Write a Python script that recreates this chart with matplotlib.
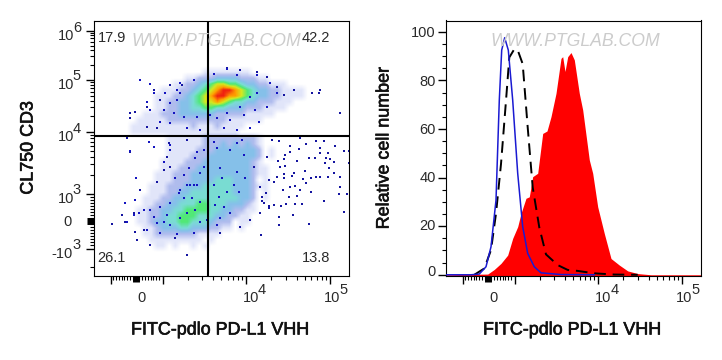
import numpy as np
import matplotlib
matplotlib.use('Agg')
from matplotlib import pyplot as plt
from matplotlib import patheffects as pe
from matplotlib.colors import LinearSegmentedColormap

plt.rcParams['font.family'] = ['Liberation Sans', 'DejaVu Sans']

# density levels, one char per cell, top row first (0-8)
density_rows = [
    "", "", "", "", "", "", "", "",
    "..................11111111",
    "...............11222333322211",
    ".............1122345665543322111",
    "...........111223456788765433221111",
    "..........1112234567887765433221111",
    "..........11223345667654433222111",
    "..........1122334455443332221111",
    "........1112223333332222211111",
    ".......111112222222222111111",
    "......1111111111211121111",
    "......111111111111111111",
    "............1111112222222221",
    "............1111112223232321",
    "............1111122233333332.1",
    "............1111222333333332.1",
    "...........11112223333333321",
    "...........111222333333333211",
    "..........1112223333333333211",
    "..........11122233334443332.1",
    ".........11122233344444333211",
    ".........111223344444443332.1",
    "........1112233444444444332.1",
    "........1122334445544433321",
    ".......11223344555544332211",
    ".......1122344555444332211",
    ".......1123344554443222.11",
    "........112333443332211.1",
    "........1122222221111",
    ".........111111111.1",
    "..........11.1..1.1",
    "", "", "", "",
]

# single events outside the dense part (channel units)
sparse_x = [178,185,206,222,230,241,250,255,226,196,205,212,191,196,234,232,226,215,221,203,190,184,186,191,
            236,240,231,235,255,211,200,198,183,190,190,209,217,222,226,234,240,246,212,206,196,201,189,180,
            175,172,168,168,195,203,217,246,253,245,230,201,208,192,187,180,175,175,170,250,199,185,215,185,167,
            46,36,41,36,53,60,66,76,88,53,63,33,36,75,93,226,225,218,246,190,200,183,173,133,146,163,
            31,41,28,18,31,43,56,93,81,50,41,40,46,63,73,76,70,166,160,173,166,156,146,126]
sparse_y = [136,135,138,135,135,130,125,125,128,130,127,132,121,124,123,118,123,118,118,115,117,115,109,110,
            117,114,113,108,113,105,103,100,99,102,98,97,98,99,99,99,103,99,93,86,89,90,86,94,
            96,83,79,75,79,80,84,89,82,82,75,72,72,72,70,71,70,68,73,64,61,59,52,51,41,
            196,163,164,158,169,186,176,191,191,149,148,138,124,133,136,186,183,183,163,181,186,189,199,208,206,204,
            73,76,61,52,54,36,31,21,38,46,44,63,86,94,119,109,106,89,109,119,63,56,49,43]

# dark dots seen inside the two clusters
inner_x = [55,76.5,76.5,70,60,36.5,42.5,31,41.5,40,33,45,53,66.5,83,100,106.5,123,126.5,136.5,145,143,151.5,150,
           136.5,123,126.5,128,120,125,121.5,113,106.5,93,96.5,100,103,86.5,90,76.5,66.5,60,70,76.5,86.5,93,
           101.5,98,106.5,110,95,101.5,90,81.5,85,73,63,56.5,50,140,133,130,120,143,148,110,103,
           46.5,56.5,60,71.5,83,86.5,100,120,133,143,163,176,183,173,161.5,150,136.5,123,103,90,80,70,66.5,
           56.5,53,76.5,93,106.5,130,143,156.5,165,83,76.5,86.5,156.5,163,146.5,133,116.5]
inner_y = [134,131,126,114,129,125,98,73,76,61,54,63,46,43,42,43,54,51,58,63,84,104,98,121,
           126,128,108,98,91,79,71,56,74,91,91,91,91,86,78,73,69,59,54,51,58,63,
           66,78,103,109,108,118,101,98,83,61,53,66,66,91,84,69,134,133,136,126,124,
           196,192,183,183,186,193,196,202,207,201,201,193,183,169,166,161,156,158,159,159,163,166,154,
           166,174,153,148,146,148,146,148,154,176,173,183,179,183,169,163,161]

quad_labels = ['17.9', '42.2', '26.1', '13.8']

# histograms: channel, % of max
red_x = [0,42.2,48.8,55.5,62.2,67.2,72.2,75.5,80.5,83.8,87.2,92.2,97.2,101.5,105.5,110.5,115.5,117.2,119.5,122.2,
         125.5,128.8,133.8,137.2,143.8,147.2,152.2,158.8,165.5,173.8,182.2,192.2,205.5,255.5]
red_y = [0,0.3,2.2,4.7,8.1,15,19.8,25.3,31.5,32.1,40.4,41.8,58.2,59.2,65.1,74.7,89.1,89.8,83.7,89.8,
         91.5,88.5,74.7,67.9,47.3,41.8,28,17,6.7,4,1.6,0.5,0,0]
blue_x = [0,25.5,33.8,40.5,45.5,50.5,53.8,56.2,59.2,62.8,67.2,72.2,77.2,82.2,88.8,95.5,115.5,148.8]
blue_y = [0,0,0.3,3.3,11.5,30.7,71.9,92.5,97.6,92.5,71.9,41.8,19.8,8.8,3.3,0.8,0.1,0]
black_x = [28.8,38.8,45.5,50.5,55.5,60.5,63.8,68.8,72.2,77.2,82.2,87.2,93.8,100.5,112.2,122.2,132.2,148.8,168.8,192.2]
black_y = [0,2.6,10.2,25.2,45.6,71.7,89.5,92.9,92.5,86.8,60.7,36,19.5,8.4,4,2,1.6,0.6,0.1,0]

xlabel_txt = 'FITC-pdlo PD-L1 VHH'
txt_col = '#2a2a2a'
W, H = 722.0, 360.0

fig = plt.figure(figsize=(7.22, 3.6), dpi=100)
ax1 = fig.add_axes([93.5/W, 1-276/H, 255.5/W, 255.5/H])
ax2 = fig.add_axes([445.5/W, 1-276/H, 255.5/W, 255.5/H])


def xticks_biex(ax):
    ax.set_xlim(0, 255.5)
    major = [17.2, 69.2, 152.5, 236.5]
    minor = [42.5+k*2.9*s for k in range(1, 9) for s in (-1, 1)]
    minor += [69.2+83.3*np.log10(k) for k in range(2, 10)]
    minor += [152.5+84*np.log10(k) for k in range(2, 10)]
    ax.set_xticks(major)
    ax.set_xticks(minor, minor=True)
    ax.tick_params(axis='x', which='major', length=6, width=1, labelbottom=False)
    ax.tick_params(axis='x', which='minor', length=3, width=0.8)
    ax.plot([42.5, 42.5], [0, -0.024], color='k', lw=5, solid_capstyle='butt',
            transform=ax.get_xaxis_transform(), clip_on=False)


def lab(x, y, s, size=10.5):
    # x,y in picture pixels
    fig.text(x/W, 1-y/H, s, fontsize=size, color=txt_col, ha='center', va='center')


def power(x, y, s):
    lab(x, y, '10')
    lab(x+11, y-8.5, s)


def axis_title(x, y, s, rot=0):
    # a bit heavier than regular, not quite bold
    fig.text(x/W, 1-y/H, s, fontsize=12.9, rotation=rot, ha='center', va='center', color='#111111',
             path_effects=[pe.withStroke(linewidth=0.45, foreground='#111111')])


# left panel
cmap = LinearSegmentedColormap.from_list('flow', ['#ffffff', '#e2e6fa', '#b0bcee', '#86c0ea', '#7adcd4',
                                                  '#50e878', '#d4e820', '#ffa000', '#f02010'])
density = np.array([[0 if c == '.' else int(c) for c in r.ljust(42, '.')] for r in density_rows])
ax1.imshow(density, cmap=cmap, vmin=0, vmax=8, extent=(0, 252, 3.5, 255.5), origin='upper',
           interpolation='bilinear', aspect='auto', zorder=1)
ax1.scatter(sparse_x, sparse_y, s=0.55, marker='s', color='#1414a0', linewidths=0, zorder=2)
ax1.scatter(inner_x, inner_y, s=0.8, marker='s', color='#1414c0', linewidths=0, zorder=2)
ax1.set_ylim(0, 255.5)
xticks_biex(ax1)
ax1.axvline(114.5, color='k', lw=1.5, zorder=3)
ax1.axhline(140.5, color='k', lw=1.5, zorder=3)
ax1.set_yticks([245.3, 196, 144, 82, 27.3])
ymin = [55+k*3*s for k in range(1, 9) for s in (-1, 1)] + [9]
ymin += [82+62*np.log10(k) for k in range(2, 10)]
ymin += [144+52*np.log10(k) for k in range(2, 10)]
ymin += [196+49.3*np.log10(k) for k in range(2, 10)]
ax1.set_yticks(ymin, minor=True)
ax1.tick_params(axis='y', which='major', length=6, width=1, labelleft=False)
ax1.tick_params(axis='y', which='minor', length=3, width=0.8)
ax1.plot([0, -0.024], [55, 55], color='k', lw=5, solid_capstyle='butt',
         transform=ax1.get_yaxis_transform(), clip_on=False)

for (x, y), s in zip([(112.5, 38), (316, 38), (111.5, 258), (316.5, 258)], quad_labels):
    lab(x, y, s)
power(66, 36, '6')
power(66, 85, '5')
power(66, 137, '4')
power(66, 199, '3')
lab(68, 222, '0')
lab(62, 253.5, '-10')
lab(77, 245, '3')
lab(141, 298, '0')
power(251, 298, '4')
power(332.5, 298, '5')
axis_title(28, 148, 'CL750 CD3', 90)
axis_title(220, 330, xlabel_txt)

# right panel
ax2.fill_between(red_x, red_y, -1, color='#ff0000', lw=0, zorder=2)
ax2.plot(black_x, black_y, color='k', lw=1.4, ls=(0, (6, 3.5)), zorder=3)
ax2.plot(blue_x, blue_y, color='#1a1ad2', lw=1.1, zorder=4)
ax2.set_ylim(-0.5, 104.7)
xticks_biex(ax2)
ax2.set_yticks(np.arange(0, 101, 20))
ax2.set_yticks(np.arange(0, 101, 5), minor=True)
ax2.tick_params(axis='y', which='major', length=6, width=1, labelleft=False)
ax2.tick_params(axis='y', which='minor', length=3, width=0.8)
for v, y in zip(['100', '80', '60', '40', '20', '0'], [33, 82, 130, 178, 226.5, 272]):
    fig.text(436/W, 1-y/H, v, fontsize=10.5, color=txt_col, ha='right', va='center')
lab(493, 298, '0')
power(603.5, 298, '4')
power(684.5, 298, '5')
axis_title(384, 148, 'Relative cell number', 90)
axis_title(572, 330, xlabel_txt)

# watermark
for x in (216, 575):
    fig.text(x/W, 1-41/H, 'WWW.PTGLAB.COM', fontsize=12.7, style='italic', color='#cccccc',
             ha='center', va='center', zorder=0.5)

fig.savefig('out.png', dpi=100)
